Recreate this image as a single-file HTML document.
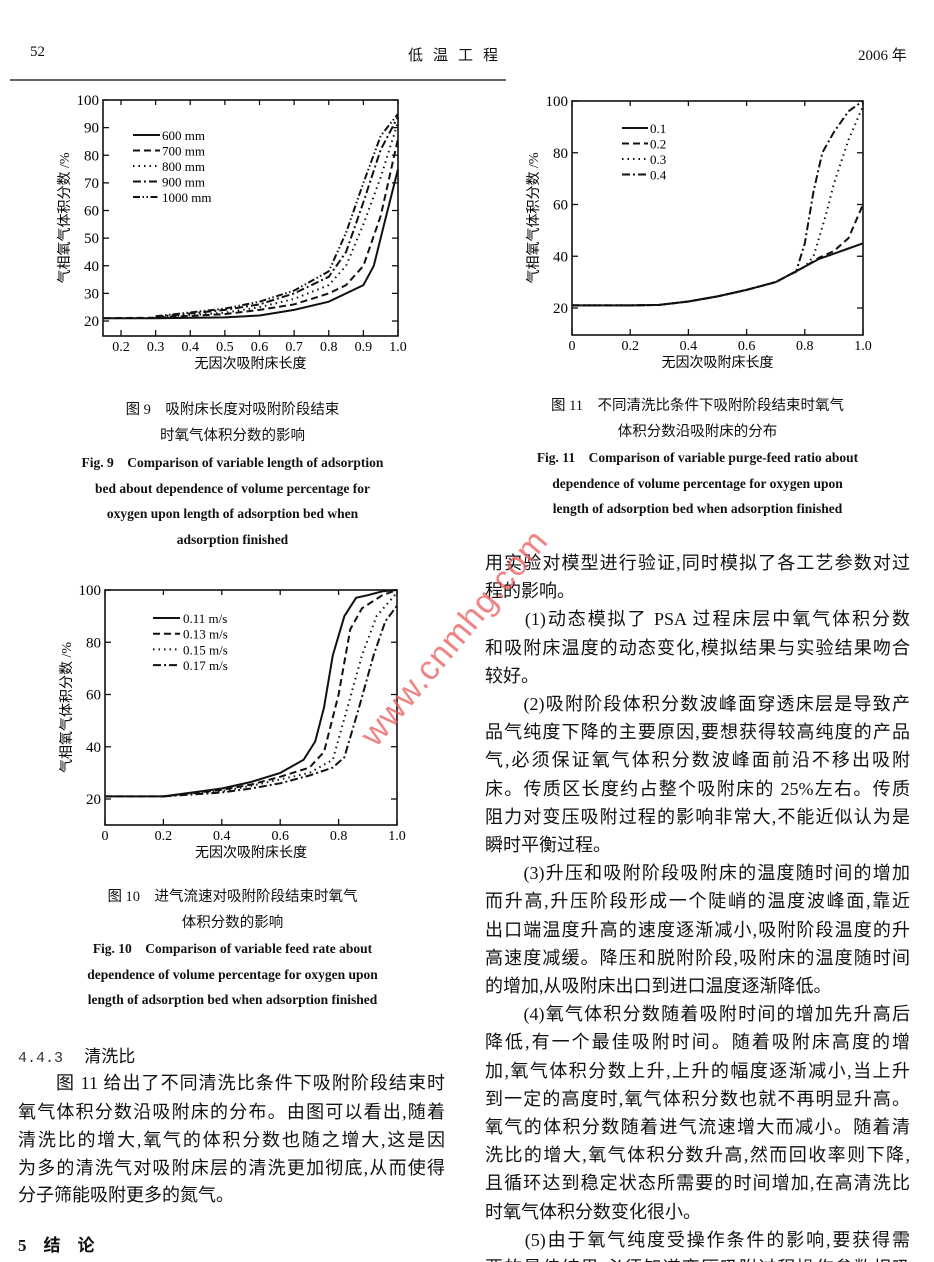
<!DOCTYPE html>
<html><head><meta charset="utf-8"><style>
body{margin:0;background:#fff;}
#p{position:relative;width:934px;height:1262px;overflow:hidden;background:#fff;color:#111;font-family:"Liberation Serif","Noto Serif CJK SC","Noto Sans CJK SC",serif;}
.a{position:absolute;white-space:nowrap;}
.cn{font-family:"Liberation Serif","Noto Sans CJK SC",sans-serif;}
.ln{position:absolute;height:28px;line-height:28px;font-size:18px;font-family:"Liberation Serif","Noto Sans CJK SC",sans-serif;text-align:justify;text-align-last:justify;white-space:nowrap;}
.ln.e{text-align-last:left;}
.cap{position:absolute;text-align:center;font-size:14.5px;line-height:26px;font-family:"Liberation Serif","Noto Sans CJK SC",sans-serif;}
.capE{position:absolute;text-align:center;font-size:13.5px;line-height:25.5px;font-weight:bold;font-family:"Liberation Serif",serif;}
svg text{font-family:"Liberation Serif",serif;}
</style></head><body><div id="p">
<div class="a" style="left:30px;top:44px;font-size:15px;">52</div>
<div class="a cn" style="left:408px;top:44px;font-size:15px;letter-spacing:10px;">低温工程</div>
<div class="a cn" style="left:858px;top:44px;font-size:15px;">2006 年</div>
<div class="a" style="left:10px;top:79px;width:496px;height:2px;background:#666;"></div>

<svg id="s" class="a" style="left:0;top:0" width="934" height="1262"></svg>

<div class="cap" style="left:60px;width:345px;top:397px;">图 9　吸附床长度对吸附阶段结束<br>时氧气体积分数的影响</div>
<div class="capE" style="left:40px;width:385px;top:450px;">Fig. 9　Comparison of variable length of adsorption<br>bed about dependence of volume percentage for<br>oxygen upon length of adsorption bed when<br>adsorption finished</div>

<div class="cap" style="left:510px;width:375px;top:393px;">图 11　不同清洗比条件下吸附阶段结束时氧气<br>体积分数沿吸附床的分布</div>
<div class="capE" style="left:490px;width:415px;top:445px;">Fig. 11　Comparison of variable purge-feed ratio about<br>dependence of volume percentage for oxygen upon<br>length of adsorption bed when adsorption finished</div>

<div class="cap" style="left:45px;width:375px;top:884px;">图 10　进气流速对吸附阶段结束时氧气<br>体积分数的影响</div>
<div class="capE" style="left:20px;width:425px;top:936px;">Fig. 10　Comparison of variable feed rate about<br>dependence of volume percentage for oxygen upon<br>length of adsorption bed when adsorption finished</div>

<div class="a cn" style="left:18px;top:1042px;font-size:17px;"><span style="font-family:'Liberation Mono',monospace;font-size:15px;color:#333">4.4.3</span>　 清洗比</div>
<div class="ln" style="left:18px;top:1069px;width:427px;">　　图 11 给出了不同清洗比条件下吸附阶段结束时</div>
<div class="ln" style="left:18px;top:1098px;width:427px;">氧气体积分数沿吸附床的分布。由图可以看出,随着</div>
<div class="ln" style="left:18px;top:1126px;width:427px;">清洗比的增大,氧气的体积分数也随之增大,这是因</div>
<div class="ln" style="left:18px;top:1154px;width:427px;">为多的清洗气对吸附床层的清洗更加彻底,从而使得</div>
<div class="ln e" style="left:18px;top:1181px;width:427px;">分子筛能吸附更多的氮气。</div>
<div class="a cn" style="left:18px;top:1231px;font-size:17px;font-weight:bold;">5　结　论</div>

<div id="rc"></div>

<div class="a" style="left:368px;top:722px;font-size:34px;color:rgba(235,90,90,0.75);transform:rotate(-50deg);transform-origin:left center;font-family:'Liberation Sans',sans-serif;letter-spacing:1px;">www.cnmhg.com</div>
</div>
<script>
var rl=["用实验对模型进行验证,同时模拟了各工艺参数对过","程的影响。","　　(1)动态模拟了 PSA 过程床层中氧气体积分数","和吸附床温度的动态变化,模拟结果与实验结果吻合","较好。","　　(2)吸附阶段体积分数波峰面穿透床层是导致产","品气纯度下降的主要原因,要想获得较高纯度的产品","气,必须保证氧气体积分数波峰面前沿不移出吸附","床。传质区长度约占整个吸附床的 25%左右。传质","阻力对变压吸附过程的影响非常大,不能近似认为是","瞬时平衡过程。","　　(3)升压和吸附阶段吸附床的温度随时间的增加","而升高,升压阶段形成一个陡峭的温度波峰面,靠近","出口端温度升高的速度逐渐减小,吸附阶段温度的升","高速度减缓。降压和脱附阶段,吸附床的温度随时间","的增加,从吸附床出口到进口温度逐渐降低。","　　(4)氧气体积分数随着吸附时间的增加先升高后","降低,有一个最佳吸附时间。随着吸附床高度的增","加,氧气体积分数上升,上升的幅度逐渐减小,当上升","到一定的高度时,氧气体积分数也就不再明显升高。","氧气的体积分数随着进气流速增大而减小。随着清","洗比的增大,氧气体积分数升高,然而回收率则下降,","且循环达到稳定状态所需要的时间增加,在高清洗比","时氧气体积分数变化很小。","　　(5)由于氧气纯度受操作条件的影响,要获得需","要的最佳结果,必须知道变压吸附过程操作参数相吸"];
var ends={1:1,4:1,10:1,15:1,23:1};
var h="";for(var i=0;i<rl.length;i++){h+='<div class="ln'+(ends[i]?' e':'')+'" style="left:485px;top:'+(549+i*28.2)+'px;width:425px;">'+rl[i]+'</div>';}
document.getElementById('rc').innerHTML=h;

var s="";
var D=["none","7,4","1.5,4","8,3,2,3","7,2.5,1.5,2.5,1.5,2.5"];
function chart(o){
 var X=function(x){return o.x0+(x-o.xa)*o.xs;},Y=function(y){return o.y20-(y-20)*o.ys;};
 s+='<rect x="'+o.L+'" y="'+o.T+'" width="'+(o.R-o.L)+'" height="'+(o.B-o.T)+'" fill="none" stroke="#111" stroke-width="1.6"/>';
 o.yt.forEach(function(v){var y=Y(v);s+='<line x1="'+o.L+'" x2="'+(o.L+6)+'" y1="'+y+'" y2="'+y+'" stroke="#111" stroke-width="1.3"/><line x1="'+o.R+'" x2="'+(o.R-6)+'" y1="'+y+'" y2="'+y+'" stroke="#111" stroke-width="1.3"/>';
  s+='<text x="'+(o.L-4)+'" y="'+(y+5)+'" font-size="15" text-anchor="end">'+v+'</text>';});
 o.xt.forEach(function(v){var x=X(v);s+='<line x1="'+x+'" x2="'+x+'" y1="'+o.B+'" y2="'+(o.B-6)+'" stroke="#111" stroke-width="1.3"/><line x1="'+x+'" x2="'+x+'" y1="'+o.T+'" y2="'+(o.T+5)+'" stroke="#111" stroke-width="1.3"/>';
  s+='<text x="'+x+'" y="'+(o.B+15)+'" font-size="14" text-anchor="middle">'+o.xf(v)+'</text>';});
 s+='<text x="'+((o.L+o.R)/2)+'" y="'+(o.B+32)+'" font-size="14" text-anchor="middle" font-family="Noto Sans CJK SC,sans-serif">无因次吸附床长度</text>';
 var cy=(o.T+o.B)/2;s+='<text transform="translate('+(o.L-34)+','+cy+') rotate(-90)" font-size="14" text-anchor="middle" font-family="Noto Sans CJK SC,sans-serif">气相氧气体积分数 /%</text>';
 o.c.forEach(function(c,i){var p=c.map(function(q){return X(q[0]).toFixed(1)+','+Y(q[1]).toFixed(1);}).join(' ');
  s+='<polyline points="'+p+'" fill="none" stroke="#111" stroke-width="2" stroke-dasharray="'+D[i]+'"/>';
  var ly=o.lg.y+i*o.lg.dy;s+='<line x1="'+o.lg.x1+'" x2="'+o.lg.x2+'" y1="'+ly+'" y2="'+ly+'" stroke="#111" stroke-width="2" stroke-dasharray="'+D[i]+'"/><text x="'+o.lg.tx+'" y="'+(ly+5)+'" font-size="13">'+o.n[i]+'</text>';});
}
function f1(v){return v.toFixed(1);} function f2(v){return v==0?"0":v.toFixed(1);}
chart({L:103,R:398,T:100,B:336,x0:121,xa:0.2,xs:346.25,y20:321,ys:2.7625,yt:[20,30,40,50,60,70,80,90,100],xt:[0.2,0.3,0.4,0.5,0.6,0.7,0.8,0.9,1.0],xf:f1,
 lg:{x1:133,x2:160,tx:162,y:135,dy:15.5},n:["600 mm","700 mm","800 mm","900 mm","1000 mm"],
 c:[[[0.15,21],[0.3,21],[0.5,21.3],[0.6,22],[0.7,24],[0.8,27],[0.9,33],[0.93,40],[0.96,55],[1.0,75]],
 [[0.15,21],[0.3,21.2],[0.5,22.5],[0.6,24],[0.7,26],[0.8,30],[0.85,33],[0.9,40],[0.95,58],[1.0,86]],
 [[0.3,21.3],[0.5,23],[0.6,25],[0.7,28],[0.8,33],[0.85,40],[0.9,55],[0.95,72],[1.0,92]],
 [[0.3,21.5],[0.5,24],[0.6,26],[0.7,30],[0.8,36],[0.85,45],[0.9,63],[0.95,82],[1.0,94]],
 [[0.3,21.7],[0.5,24.5],[0.6,27],[0.7,31],[0.8,38],[0.85,52],[0.9,70],[0.95,87],[1.0,95]]]});
(function(){var o={L:572,R:863,T:101,B:335,x0:572,xa:0,xs:291,y20:308,ys:2.5875,yt:[20,40,60,80,100],xt:[0,0.2,0.4,0.6,0.8,1.0],xf:f2,lg:{x1:622,x2:648,tx:650,y:128,dy:15.5},n:["0.1","0.2","0.3","0.4"]};
 var base=[[0,21],[0.2,21],[0.3,21.2],[0.4,22.5],[0.5,24.5],[0.6,27],[0.7,30],[0.75,33]];
 o.c=[base.concat([[0.8,36],[0.85,39],[0.9,41],[0.95,43],[1.0,45]]),base.concat([[0.8,36],[0.85,39.5],[0.9,42],[0.95,47],[1.0,60]]),base.concat([[0.8,36],[0.83,40],[0.87,55],[0.9,68],[0.95,85],[1.0,98]]),base.concat([[0.77,34],[0.8,45],[0.83,65],[0.86,80],[0.9,88],[0.95,96],[1.0,100]])];
 chart(o);})();
chart({L:105,R:397,T:590,B:825,x0:105,xa:0,xs:292,y20:799,ys:2.6125,yt:[20,40,60,80,100],xt:[0,0.2,0.4,0.6,0.8,1.0],xf:f2,lg:{x1:153,x2:180,tx:183,y:618,dy:15.7},n:["0.11 m/s","0.13 m/s","0.15 m/s","0.17 m/s"],
 c:[[[0,21],[0.2,21],[0.4,24],[0.5,26.5],[0.6,30],[0.68,35],[0.72,42],[0.75,55],[0.78,75],[0.82,90],[0.86,97],[0.9,98],[0.95,99.5],[1.0,100]],
 [[0,21],[0.2,21],[0.4,23.5],[0.5,25.5],[0.6,28.5],[0.7,32],[0.75,38],[0.8,60],[0.84,85],[0.88,93],[0.95,98],[1.0,100]],
 [[0.2,21],[0.4,23],[0.5,25],[0.6,27.5],[0.7,30],[0.78,35],[0.83,55],[0.88,75],[0.93,90],[1.0,99]],
 [[0.2,21],[0.4,22.5],[0.5,24],[0.6,26],[0.7,29],[0.78,32],[0.82,36],[0.87,55],[0.92,75],[0.96,88],[1.0,94]]]});
document.getElementById('s').innerHTML=s;
</script>
</body></html>
